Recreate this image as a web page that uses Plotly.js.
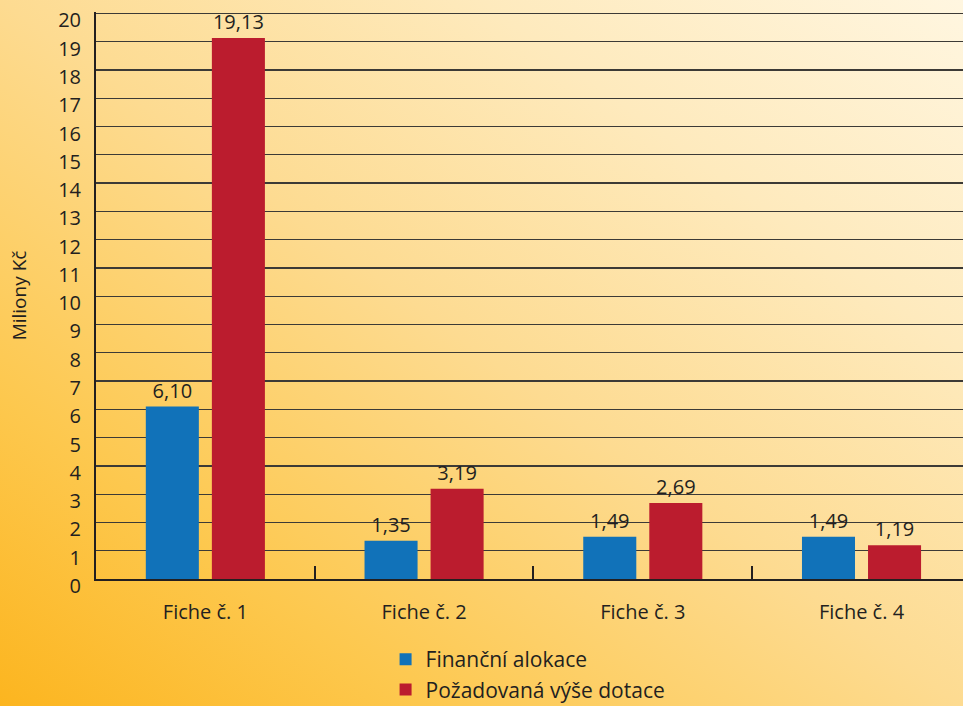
<!DOCTYPE html>
<html>
<head>
<meta charset="utf-8">
<script src="https://cdn.plot.ly/plotly-3.0.1.min.js"></script>
<style>
  html, body { margin: 0; padding: 0; }
  #chart {
    width: 963px; height: 706px;
    background: linear-gradient(to top right, #fcb51f 0%, #fdc84e 22%, #fddb91 50%, #feeabd 75%, #fff6e0 100%);
  }
</style>
</head>
<body>
<div id="chart"></div>
<script>
const categories = ["Fiche č. 1", "Fiche č. 2", "Fiche č. 3", "Fiche č. 4"];
const financniAlokace = [6.10, 1.35, 1.49, 1.49];
const pozadovanaVyse = [19.13, 3.19, 2.69, 1.19];
const seriesNames = ["Finanční alokace", "Požadovaná výše dotace"];
const yTicks = [0,1,2,3,4,5,6,7,8,9,10,11,12,13,14,15,16,17,18,19,20];

const FONT = "Open Sans, sans-serif";
const TXT = "#231f20";
const FS = 20;

const traces = [
  {
    type: "bar", name: seriesNames[0], x: categories, y: financniAlokace,
    marker: { color: "#1172b9" },
    texttemplate: "%{y:.2f}", textposition: "outside", cliponaxis: false,
    textfont: { family: FONT, size: FS, color: TXT },
    legendgroup: "a", hoverinfo: "none"
  },
  {
    type: "bar", name: seriesNames[1], x: categories, y: pozadovanaVyse,
    marker: { color: "#bb1c2e" },
    texttemplate: "%{y:.2f}", textposition: "outside", cliponaxis: false,
    textfont: { family: FONT, size: FS, color: TXT },
    legendgroup: "b", hoverinfo: "none"
  }
];

const layout = {
  width: 963, height: 706,
  margin: { l: 96, r: 0, t: 12, b: 127, autoexpand: false },
  paper_bgcolor: "rgba(0,0,0,0)",
  plot_bgcolor: "rgba(0,0,0,0)",
  separators: ", ",
  barmode: "group",
  bargap: 0.396,
  bargroupgap: 0.197,
  font: { family: FONT, color: TXT, size: FS },
  xaxis: {
    range: [-0.5, 3.464],
    showline: true, linecolor: "#231f20", linewidth: 2,
    showgrid: false, zeroline: false,
    tickson: "boundaries", ticks: "inside", ticklen: 13, tickwidth: 2, tickcolor: "#231f20",
    tickfont: { family: FONT, size: FS, color: TXT },
    ticklabelstandoff: 14
  },
  yaxis: {
    range: [0, 20.05],
    tickvals: yTicks,
    ticktext: yTicks.map(String),
    showline: true, linecolor: "#231f20", linewidth: 2,
    showgrid: true, gridcolor: "#3c3a36", gridwidth: 1.3,
    zeroline: false, ticks: "",
    tickfont: { family: FONT, size: FS, color: TXT },
    ticklabelshift: 7,
    ticklabelstandoff: 9,
    title: { text: "Miliony Kč", font: { family: FONT, size: 19, color: TXT }, standoff: 26 }
  },
  showlegend: true,
  legend: {
    x: 0.334, xanchor: "left",
    y: -0.106, yanchor: "top",
    orientation: "v",
    traceorder: "grouped",
    tracegroupgap: 0,
    bgcolor: "rgba(0,0,0,0)",
    font: { family: FONT, size: 21, color: TXT }
  }
};

Plotly.newPlot("chart", traces, layout, { displayModeBar: false, staticPlot: true });
</script>
</body>
</html>
